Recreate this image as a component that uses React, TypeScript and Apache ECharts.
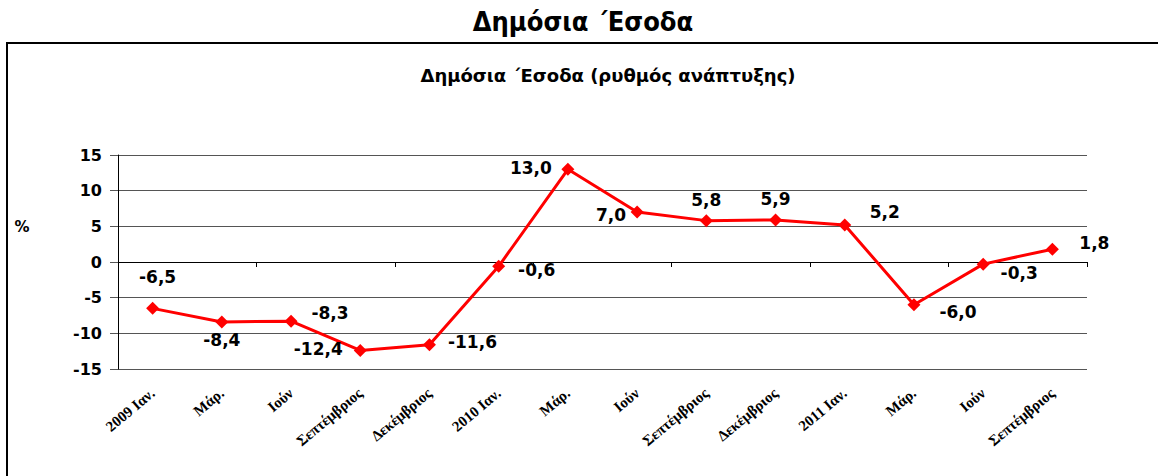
import React, { useEffect, useRef } from "react";
import * as echarts from "echarts";

const categories = [
  "2009 Ιαν.", "Μάρ.", "Ιούν", "Σεπτέμβριος", "Δεκέμβριος",
  "2010 Ιαν.", "Μάρ.", "Ιούν", "Σεπτέμβριος", "Δεκέμβριος",
  "2011 Ιαν.", "Μάρ.", "Ιούν", "Σεπτέμβριος",
];
const growth = [-6.5, -8.4, -8.3, -12.4, -11.6, -0.6, 13.0, 7.0, 5.8, 5.9, 5.2, -6.0, -0.3, 1.8];
// label offsets relative to the marker centre (pixels)
const labelOffsets: [number, number][] = [
  [5, -31], [0, 18], [39, -8], [-42, -1], [43, -3], [38, 4], [-37, -1],
  [-26, 3], [0, -21], [0, -21], [40, -13], [44, 7], [36, 9], [42, -6],
];
const mainTitle = "Δημόσια ΄Εσοδα";
const subTitle = "Δημόσια ΄Εσοδα (ρυθμός ανάπτυξης)";
const yUnit = "%";

const fmt = (v: number) => v.toFixed(1).replace(".", ",");
const labelFont = "'DejaVu Sans', Verdana, sans-serif";
const titleFont = "'DejaVu Sans Condensed', 'Liberation Sans Narrow', sans-serif";

export default function App() {
  const ref = useRef<HTMLDivElement>(null);
  useEffect(() => {
    if (!ref.current) return;
    const chart = echarts.init(ref.current, undefined, { renderer: "svg" });
    chart.setOption({
      animation: false,
      backgroundColor: "#ffffff",
      grid: { left: 118, top: 155, width: 969, height: 214 },
      graphic: [
        {
          type: "rect",
          shape: { x: 7, y: 43, width: 1170, height: 460 },
          style: { fill: "none", stroke: "#000", lineWidth: 2 },
          silent: true,
        },
        {
          type: "text",
          x: 583,
          y: 21,
          style: {
            text: mainTitle,
            font: `bold 27px ${titleFont}`,
            fill: "#000",
            textAlign: "center",
            textVerticalAlign: "middle",
          },
        },
        {
          type: "text",
          x: 608,
          y: 75,
          style: {
            text: subTitle,
            font: `bold 18px ${labelFont}`,
            fill: "#000",
            textAlign: "center",
            textVerticalAlign: "middle",
          },
        },
        {
          type: "text",
          x: 22,
          y: 227,
          style: {
            text: yUnit,
            font: `bold 15px ${labelFont}`,
            fill: "#000",
            textAlign: "center",
            textVerticalAlign: "middle",
          },
        },
      ],
      xAxis: [
        {
          type: "category",
          data: categories,
          position: "bottom",
          axisLine: { show: false, onZero: false },
          axisTick: { show: false },
          axisLabel: {
            rotate: 40,
            margin: 22,
            interval: 0,
            fontFamily: "'Liberation Serif', 'DejaVu Serif', serif",
            fontWeight: "bold",
            fontSize: 15,
            color: "#000",
          },
        },
        {
          type: "category",
          data: categories,
          position: "bottom",
          axisLine: { show: true, onZero: true, lineStyle: { color: "#000", width: 1 } },
          axisTick: { show: true, length: 5, lineStyle: { color: "#000" } },
          axisLabel: { show: false },
        },
      ],
      yAxis: {
        type: "value",
        min: -15,
        max: 15,
        interval: 5,
        axisLine: { show: true, lineStyle: { color: "#000", width: 1 } },
        axisTick: { show: true, length: 8, lineStyle: { color: "#555" } },
        axisLabel: {
          margin: 16,
          fontFamily: labelFont,
          fontWeight: "bold",
          fontSize: 16,
          color: "#000",
          formatter: (v: number) => String(v),
        },
        splitLine: { show: true, lineStyle: { color: "#555", width: 1 } },
      },
      series: [
        {
          type: "line",
          xAxisIndex: 0,
          data: growth.map((v, i) => ({
            value: v,
            label: {
              show: true,
              position: "inside",
              offset: labelOffsets[i],
              formatter: fmt(v),
            },
          })),
          symbol: "diamond",
          symbolSize: 13,
          lineStyle: { color: "#ff0000", width: 3 },
          itemStyle: { color: "#ff0000" },
          label: {
            fontFamily: labelFont,
            fontWeight: "bold",
            fontSize: 17,
            color: "#000",
          },
          z: 5,
        },
      ],
    });
    return () => chart.dispose();
  }, []);
  return (
    <div
      ref={ref}
      style={{ position: "fixed", left: 0, top: 0, width: 1158, height: 476 }}
    />
  );
}
